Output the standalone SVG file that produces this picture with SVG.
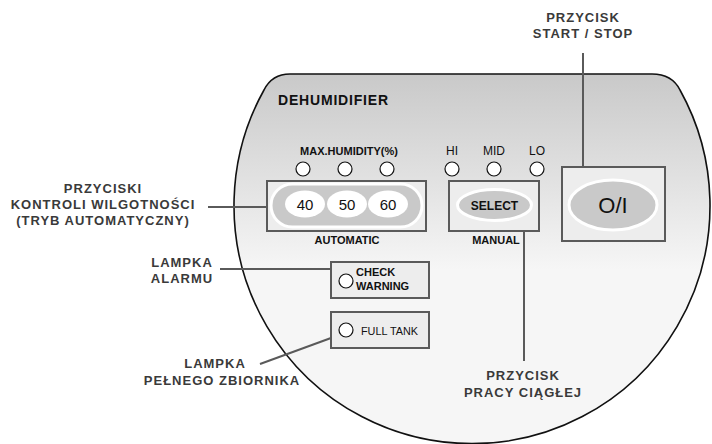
<svg xmlns="http://www.w3.org/2000/svg" width="712" height="444" viewBox="0 0 712 444">
<defs>
<linearGradient id="pg" gradientUnits="userSpaceOnUse" x1="0" y1="74" x2="0" y2="270">
<stop offset="0" stop-color="#c9c9c9"/>
<stop offset="1" stop-color="#f6f6f6"/>
</linearGradient>
<style>
.lbl{font-family:"Liberation Sans",Arial,sans-serif;font-weight:700;font-size:13px;letter-spacing:1px;fill:#3a3a3a;text-anchor:middle}
.box{fill:#ededed;stroke:#5a5a5a;stroke-width:2}
.led{fill:#fff;stroke:#111;stroke-width:1.2}
.btn{fill:#c9c9c9;stroke:#fff;stroke-width:3}
.con{stroke:#5a5a5a;stroke-width:2;fill:none}
.hv{font-family:"Liberation Sans",Arial,sans-serif;fill:#111}
.b{font-weight:700}
</style>
</defs>
<rect width="712" height="444" fill="#fff"/>
<g id="panel">
<path d="M 290,74 L 652,74 Q 672,74 680,90 A 238 238 0 1 1 264,90 Q 272,74 290,74 Z" fill="url(#pg)" stroke="#111" stroke-width="1.6"/>
<text class="hv b" x="278" y="105" font-size="14" textLength="110" lengthAdjust="spacing">DEHUMIDIFIER</text>
</g>
<g id="connectors">
<line class="con" x1="208" y1="207" x2="267" y2="207"/>
<line class="con" x1="220" y1="269" x2="331" y2="269"/>
<line class="con" x1="331" y1="338" x2="260" y2="364"/>
<line class="con" x1="524" y1="231" x2="524" y2="361"/>
<line class="con" x1="583" y1="53" x2="583" y2="167"/>
</g>
<g id="humidity">
<text class="hv b" x="349" y="155" font-size="11" text-anchor="middle">MAX.HUMIDITY(%)</text>
<circle class="led" cx="303" cy="169" r="7"/>
<circle class="led" cx="345" cy="169" r="7"/>
<circle class="led" cx="387" cy="169" r="7"/>
<rect class="box" x="267" y="181" width="159" height="50"/>
<rect class="btn" x="271" y="184" width="151" height="43" rx="21.5"/>
<ellipse cx="305" cy="204" rx="20" ry="13.5" fill="#fff"/>
<ellipse cx="347" cy="204" rx="20" ry="13.5" fill="#fff"/>
<ellipse cx="388" cy="204" rx="20" ry="13.5" fill="#fff"/>
<text class="hv" x="305" y="209.5" font-size="15" text-anchor="middle" fill="#222">40</text>
<text class="hv" x="347" y="209.5" font-size="15" text-anchor="middle" fill="#222">50</text>
<text class="hv" x="388" y="209.5" font-size="15" text-anchor="middle" fill="#222">60</text>
<text class="hv b" x="347" y="244" font-size="11" text-anchor="middle">AUTOMATIC</text>
</g>
<g id="manual">
<text class="hv" x="452" y="155" font-size="12" text-anchor="middle">HI</text>
<text class="hv" x="494" y="155" font-size="12" text-anchor="middle">MID</text>
<text class="hv" x="537" y="155" font-size="12" text-anchor="middle">LO</text>
<circle class="led" cx="452" cy="169" r="7"/>
<circle class="led" cx="494" cy="169" r="7"/>
<circle class="led" cx="537" cy="169" r="7"/>
<rect class="box" x="449" y="181" width="90" height="50"/>
<ellipse class="btn" cx="494.5" cy="205" rx="37" ry="15.5"/>
<text class="hv b" x="494.5" y="210" font-size="12" text-anchor="middle" fill="#222">SELECT</text>
<text class="hv b" x="496" y="244" font-size="11" text-anchor="middle">MANUAL</text>
</g>
<g id="power">
<rect class="box" x="562" y="167" width="103" height="74"/>
<ellipse class="btn" cx="613" cy="205" rx="44" ry="25" fill="#d6d6d6"/>
<text class="hv" x="613" y="213" font-size="22" text-anchor="middle">O/I</text>
</g>
<g id="check">
<rect class="box" x="331" y="262" width="98" height="36"/>
<circle class="led" cx="346" cy="281" r="7"/>
<text class="hv b" x="356" y="276" font-size="11">CHECK</text>
<text class="hv b" x="356" y="290" font-size="11">WARNING</text>
</g>
<g id="fulltank">
<rect class="box" x="331" y="312" width="98" height="36"/>
<circle class="led" cx="346" cy="330" r="7"/>
<text class="hv" x="361" y="335" font-size="11" textLength="57" lengthAdjust="spacingAndGlyphs">FULL TANK</text>
</g>
<g id="label-startstop">
<text class="lbl" x="583" y="22">PRZYCISK</text>
<text class="lbl" x="583" y="38">START / STOP</text>
</g>
<g id="label-humidity">
<text class="lbl" x="103" y="193">PRZYCISKI</text>
<text class="lbl" x="103" y="209">KONTROLI WILGOTNOŚCI</text>
<text class="lbl" x="103" y="225">(TRYB AUTOMATYCZNY)</text>
</g>
<g id="label-alarm">
<text class="lbl" x="182" y="267">LAMPKA</text>
<text class="lbl" x="182" y="283">ALARMU</text>
</g>
<g id="label-tank">
<text class="lbl" x="215" y="368">LAMPKA</text>
<text class="lbl" x="222" y="385">PEŁNEGO ZBIORNIKA</text>
</g>
<g id="label-continuous">
<text class="lbl" x="523" y="380">PRZYCISK</text>
<text class="lbl" x="523" y="397">PRACY CIĄGŁEJ</text>
</g>
</svg>
